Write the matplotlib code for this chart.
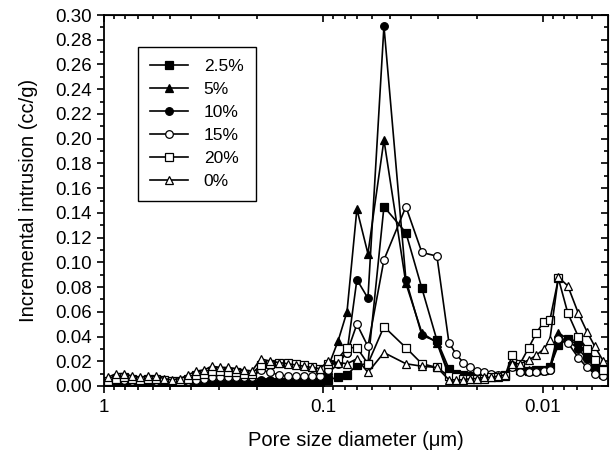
import numpy as np
import matplotlib
matplotlib.use("Agg")
from matplotlib import pyplot as plt
from matplotlib.ticker import FixedLocator, FixedFormatter, LogLocator, NullFormatter, MultipleLocator

plt.rcParams['font.family'] = ['Liberation Sans', 'DejaVu Sans']

# pore diameter (um)
diam = [0.96, 0.882, 0.811, 0.746, 0.686, 0.630, 0.580, 0.533, 0.490, 0.450,
        0.414, 0.381, 0.350, 0.322, 0.296, 0.272, 0.250, 0.230, 0.212, 0.193,
        0.175, 0.160, 0.145, 0.1334, 0.1227, 0.1128, 0.1037, 0.0954, 0.0859, 0.0781,
        0.0704, 0.0627, 0.0530, 0.0421, 0.0356, 0.0304, 0.0268, 0.0249, 0.0231, 0.0215,
        0.0200, 0.0186, 0.0173, 0.0160, 0.0149, 0.0138, 0.0127, 0.0116, 0.0107, 0.0099,
        0.0093, 0.0085, 0.0077, 0.0069, 0.0063, 0.0058, 0.0053]

# incremental intrusion (cc/g)
s_2_5 = [0.000, 0.001, 0.001, 0.001, 0.001, 0.001, 0.001, 0.001, 0.001, 0.001,
         0.001, 0.001, 0.002, 0.002, 0.002, 0.002, 0.002, 0.002, 0.002, 0.003,
         0.003, 0.003, 0.003, 0.003, 0.003, 0.003, 0.003, 0.005, 0.007, 0.009,
         0.017, 0.018, 0.145, 0.124, 0.079, 0.037, 0.014, 0.010, 0.009, 0.008,
         0.008, 0.008, 0.008, 0.008, 0.009, 0.016, 0.013, 0.012, 0.013, 0.013,
         0.015, 0.033, 0.038, 0.036, 0.025, 0.015, 0.010]
s_5 = [0.001, 0.001, 0.002, 0.002, 0.002, 0.002, 0.002, 0.002, 0.002, 0.002,
       0.002, 0.003, 0.003, 0.003, 0.003, 0.003, 0.003, 0.003, 0.003, 0.004,
       0.004, 0.004, 0.004, 0.004, 0.005, 0.005, 0.006, 0.015, 0.036, 0.060,
       0.143, 0.107, 0.199, 0.083, 0.043, 0.035, 0.008, 0.007, 0.007, 0.007,
       0.007, 0.007, 0.008, 0.008, 0.009, 0.018, 0.013, 0.013, 0.013, 0.013,
       0.015, 0.043, 0.038, 0.033, 0.025, 0.017, 0.012]
s_10 = [0.001, 0.002, 0.002, 0.002, 0.002, 0.002, 0.002, 0.002, 0.002, 0.002,
        0.003, 0.003, 0.003, 0.004, 0.004, 0.004, 0.004, 0.004, 0.004, 0.005,
        0.005, 0.005, 0.005, 0.005, 0.006, 0.006, 0.007, 0.010, 0.018, 0.027,
        0.086, 0.071, 0.291, 0.086, 0.041, 0.036, 0.010, 0.009, 0.008, 0.008,
        0.008, 0.008, 0.008, 0.008, 0.009, 0.017, 0.013, 0.012, 0.012, 0.012,
        0.013, 0.039, 0.037, 0.030, 0.022, 0.015, 0.012]
s_15 = [0.004, 0.005, 0.005, 0.004, 0.004, 0.005, 0.004, 0.004, 0.003, 0.003,
        0.004, 0.005, 0.006, 0.007, 0.007, 0.007, 0.007, 0.007, 0.007, 0.013,
        0.011, 0.009, 0.008, 0.008, 0.008, 0.008, 0.008, 0.013, 0.022, 0.027,
        0.050, 0.032, 0.102, 0.145, 0.108, 0.105, 0.035, 0.026, 0.019, 0.015,
        0.012, 0.011, 0.010, 0.009, 0.009, 0.015, 0.011, 0.011, 0.011, 0.012,
        0.013, 0.038, 0.035, 0.023, 0.015, 0.010, 0.008]
s_20 = [0.004, 0.006, 0.007, 0.006, 0.005, 0.006, 0.006, 0.005, 0.004, 0.004,
        0.006, 0.009, 0.010, 0.012, 0.012, 0.011, 0.011, 0.010, 0.010, 0.017,
        0.018, 0.019, 0.019, 0.018, 0.017, 0.015, 0.014, 0.018, 0.022, 0.031,
        0.031, 0.018, 0.048, 0.031, 0.018, 0.015, 0.008, 0.007, 0.006, 0.006,
        0.006, 0.006, 0.007, 0.007, 0.008, 0.025, 0.018, 0.031, 0.043, 0.052,
        0.053, 0.087, 0.059, 0.040, 0.030, 0.021, 0.013]
s_0 = [0.007, 0.010, 0.010, 0.008, 0.007, 0.008, 0.008, 0.006, 0.005, 0.006,
       0.009, 0.012, 0.013, 0.016, 0.015, 0.015, 0.014, 0.013, 0.012, 0.022,
       0.020, 0.019, 0.018, 0.017, 0.016, 0.015, 0.014, 0.020, 0.019, 0.018,
       0.022, 0.011, 0.027, 0.018, 0.016, 0.015, 0.005, 0.005, 0.005, 0.006,
       0.006, 0.007, 0.007, 0.008, 0.009, 0.018, 0.018, 0.021, 0.025, 0.030,
       0.037, 0.088, 0.081, 0.059, 0.044, 0.032, 0.020]

labels = ['2.5%', '5%', '10%', '15%', '20%', '0%']
series = [s_2_5, s_5, s_10, s_15, s_20, s_0]
markers = ['s', '^', 'o', 'o', 's', '^']
filled = [True, True, True, False, False, False]

fig = plt.figure(figsize=(6.1, 4.55), dpi=100)
ax = fig.add_axes([104/610, 1-386/455, 504/610, 371/455])

for y, lab, m, f in zip(series, labels, markers, filled):
    ax.plot(diam, y, color='black', lw=1.2, marker=m, ms=5.5,
            mfc='black' if f else 'white', mec='black', mew=0.9, label=lab)

ax.set_xscale('log')
ax.set_xlim(1, 0.00505)
ax.set_ylim(0, 0.30)

ax.xaxis.set_major_locator(FixedLocator([1, 0.1, 0.01]))
ax.xaxis.set_major_formatter(FixedFormatter(['1', '0.1', '0.01']))
ax.xaxis.set_minor_locator(LogLocator(base=10, subs=np.arange(2, 10)))
ax.xaxis.set_minor_formatter(NullFormatter())
ax.yaxis.set_major_locator(MultipleLocator(0.02))
ax.yaxis.set_minor_locator(MultipleLocator(0.01))
ax.yaxis.set_major_formatter(plt.FuncFormatter(lambda v, p: '%.2f' % v))

ax.tick_params(which='both', direction='out', top=False, right=False, labelsize=13.5, width=1.2)
ax.tick_params(which='major', length=5, pad=4)
ax.tick_params(which='minor', length=3)
for s in ax.spines.values():
    s.set_linewidth(1.3)

# inward ticks on the top and right
ax2 = ax.secondary_xaxis('top')
ax2.xaxis.set_major_locator(FixedLocator([1, 0.1, 0.01]))
ax2.xaxis.set_minor_locator(LogLocator(base=10, subs=np.arange(2, 10)))
ax2.tick_params(which='both', direction='in', labeltop=False, width=1.2)
ax2.tick_params(which='major', length=5)
ax2.tick_params(which='minor', length=3)
ax3 = ax.secondary_yaxis('right')
ax3.yaxis.set_major_locator(MultipleLocator(0.02))
ax3.yaxis.set_minor_locator(MultipleLocator(0.01))
ax3.tick_params(which='both', direction='in', labelright=False, width=1.2)
ax3.tick_params(which='major', length=5)
ax3.tick_params(which='minor', length=3)

ax.set_xlabel('Pore size diameter (μm)', fontsize=14.5, labelpad=11)
ax.set_ylabel('Incremental intrusion (cc/g)', fontsize=14.5, labelpad=12)

leg = ax.legend(loc='upper left', bbox_to_anchor=(0.067, 0.914), borderaxespad=0,
                fontsize=12.5, fancybox=False, framealpha=1, edgecolor='black',
                labelspacing=0.45, handlelength=2.2, handletextpad=0.9, borderpad=0.7)
leg.get_frame().set_linewidth(1.0)

fig.savefig('out.png', dpi=100)
